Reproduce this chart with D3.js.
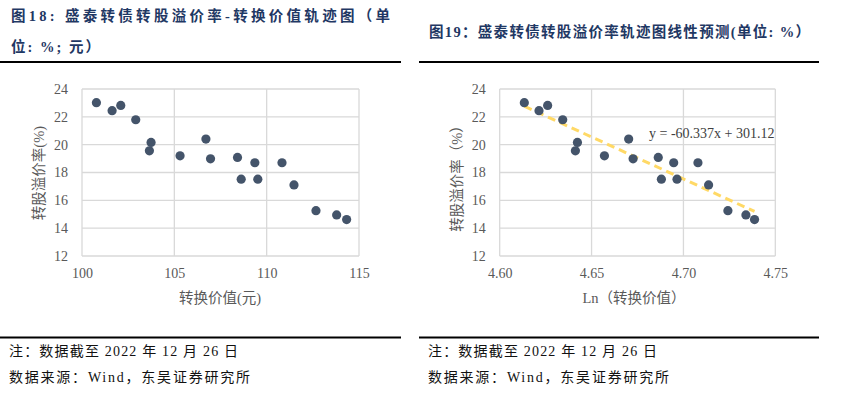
<!DOCTYPE html>
<html>
<head>
<meta charset="utf-8">
<script src="https://cdn.jsdelivr.net/npm/d3@7"></script>
<style>
  body { margin: 0; background: #fff; }
  svg { display: block; }
  .tick text { font-family: "Liberation Serif", "Times New Roman", serif; font-size: 14px; fill: #595959; }
</style>
</head>
<body>
<svg id="chart" width="844" height="394"></svg>
<script>
// valores
const convValue = [100.78, 101.63, 102.10, 102.91, 103.74, 103.65, 105.31, 106.71, 106.96,
  108.42, 108.62, 109.36, 109.52, 110.83, 111.48, 112.67, 113.79, 114.33]
const lnConvValue = [4.6134, 4.6214, 4.6261, 4.6343, 4.6423, 4.6412, 4.6570, 4.6702, 4.6726,
  4.6863, 4.6880, 4.6947, 4.6965, 4.7079, 4.7137, 4.7242, 4.7340, 4.7387]
const premium = [23.02, 22.44, 22.82, 21.79, 20.16, 19.56, 19.20, 20.40, 18.98,
  19.08, 17.52, 18.70, 17.52, 18.70, 17.11, 15.26, 14.95, 14.62]

const yTicks = [12, 14, 16, 18, 20, 22, 24]
const xTicksLeft = [100, 105, 110, 115]
const xTicksRight = [4.60, 4.65, 4.70, 4.75]
const trendCoef = [-60.337, 301.12] // pendiente, intercepto

const svg = d3.select("#chart")
svg.append("rect").attr("width", 844).attr("height", 394).attr("fill", "#fff")

// numeros en serif, chino cae en Noto Sans CJK
const mixed = "'Liberation Serif', 'Noto Sans CJK SC', serif"
const serif = "'Liberation Serif', 'Times New Roman', serif"
const titleColor = "#1f3864"

// Titulos (textLength para que ocupen el mismo ancho que el original)
function title(x, y, txt, len) {
  svg.append("text").attr("x", x).attr("y", y)
    .attr("font-family", mixed).attr("font-weight", "bold").attr("font-size", 14.5)
    .attr("fill", titleColor)
    .attr("textLength", len).attr("lengthAdjust", "spacing")
    .text(txt)
}
title(11, 21, "图18: 盛泰转债转股溢价率-转换价值轨迹图（单", 379)
title(11, 52, "位: %; 元）", 89)
title(429, 37, "图19：盛泰转债转股溢价率轨迹图线性预测(单位: %）", 381)

// lineas negras
const rules = [[0, 401, 62], [419, 819, 62], [0, 401, 337.5], [419, 819, 337.5]]
svg.selectAll(".rule").data(rules).join("line")
  .attr("x1", d => d[0]).attr("x2", d => d[1])
  .attr("y1", d => d[2]).attr("y2", d => d[2])
  .attr("stroke", "#000").attr("stroke-width", 2.2)

// notas de abajo
;[9, 428].forEach(x0 => {
  svg.append("text").attr("x", x0).attr("y", 356)
    .attr("font-family", mixed).attr("font-size", 14).attr("fill", "#111")
    .attr("textLength", 229).attr("lengthAdjust", "spacing")
    .text("注：数据截至 2022 年 12 月 26 日")
  svg.append("text").attr("x", x0).attr("y", 382)
    .attr("font-family", mixed).attr("font-size", 14).attr("fill", "#111")
    .attr("textLength", 241).attr("lengthAdjust", "spacing")
    .text("数据来源：Wind，东吴证券研究所")
})

function panel(opts) {
  const x = d3.scaleLinear().domain(opts.xDomain).range(opts.xRange)
  const y = d3.scaleLinear().domain([12, 24]).range([256, 89])
  const g = svg.append("g")

  // grilla
  g.selectAll(".hg").data(yTicks).join("line")
    .attr("x1", opts.xRange[0]).attr("x2", opts.xRange[1])
    .attr("y1", d => y(d)).attr("y2", d => y(d))
    .attr("stroke", "#d9d9d9").attr("stroke-width", 1.3)
  g.selectAll(".vg").data(opts.xTicks).join("line")
    .attr("x1", d => x(d)).attr("x2", d => x(d))
    .attr("y1", y(12)).attr("y2", y(24))
    .attr("stroke", "#d9d9d9").attr("stroke-width", 1.3)

  // ejes (solo texto)
  const ya = g.append("g").attr("transform", `translate(${opts.xRange[0]},0)`)
    .call(d3.axisLeft(y).tickValues(yTicks).tickSize(0).tickPadding(14).tickFormat(d3.format("d")))
  ya.select(".domain").remove()
  const xa = g.append("g").attr("transform", `translate(0,${y(12)})`)
    .call(d3.axisBottom(x).tickValues(opts.xTicks).tickSize(0).tickPadding(12).tickFormat(opts.fmt))
  xa.select(".domain").remove()

  // linea de tendencia
  if (opts.trend) {
    const ext = d3.extent(opts.xs)
    g.append("line")
      .attr("x1", x(ext[0])).attr("y1", y(trendCoef[0] * ext[0] + trendCoef[1]))
      .attr("x2", x(ext[1])).attr("y2", y(trendCoef[0] * ext[1] + trendCoef[1]))
      .attr("stroke", "#ffd966").attr("stroke-width", 3).attr("stroke-dasharray", "8,5")
  }

  g.selectAll("circle").data(opts.xs).join("circle")
    .attr("cx", d => x(d)).attr("cy", (d, i) => y(premium[i]))
    .attr("r", 4.6).attr("fill", "#44546a")

  if (opts.trend) {
    g.append("text").attr("x", 649).attr("y", 138)
      .attr("font-family", serif).attr("font-size", 14).attr("fill", "#404040")
      .text("y = -60.337x + 301.12")
  }

  // titulos de ejes
  g.append("text").attr("x", opts.xTitleX).attr("y", 303).attr("text-anchor", "middle")
    .attr("font-family", mixed).attr("font-size", 14.5).attr("fill", "#595959")
    .text(opts.xTitle)
  g.append("text").attr("transform", `translate(${opts.yTitleX},${opts.yTitleY}) rotate(-90)`)
    .attr("text-anchor", "middle").attr("dy", "0.35em")
    .attr("font-family", mixed).attr("font-size", 14.5).attr("fill", "#595959")
    .text(opts.yTitle)
}

panel({ xs: convValue, xDomain: [100, 115], xRange: [82, 359], xTicks: xTicksLeft,
  fmt: d3.format("d"), xTitle: "转换价值(元)", xTitleX: 220,
  yTitle: "转股溢价率(%)", yTitleX: 39, yTitleY: 173, trend: false })

panel({ xs: lnConvValue, xDomain: [4.60, 4.75], xRange: [499.7, 775.3], xTicks: xTicksRight,
  fmt: d3.format(".2f"), xTitle: "Ln（转换价值）", xTitleX: 634,
  yTitle: "转股溢价率（%）", yTitleX: 457, yTitleY: 175, trend: true })
</script>
</body>
</html>
